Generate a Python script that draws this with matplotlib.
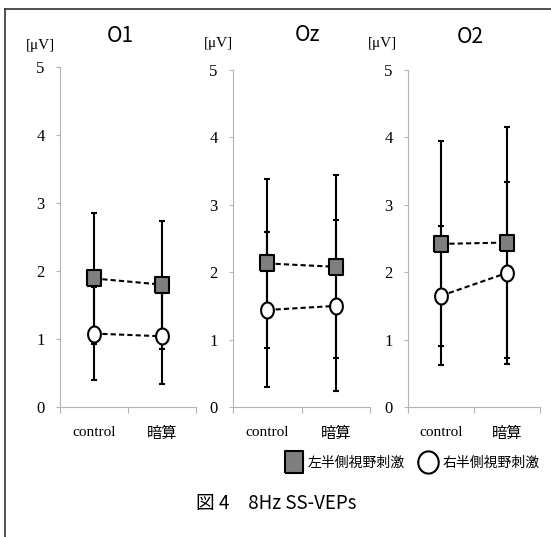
import matplotlib
matplotlib.use("Agg")
import matplotlib.pyplot as plt
from matplotlib.lines import Line2D
import numpy as np

# data (mean and SD, in microvolts)
conditions = ['control', '暗算']
channels = ['O1', 'Oz', 'O2']
left_mean_o1 = [1.89, 1.80]
left_sd_o1 = [0.97, 0.94]
right_mean_o1 = [1.08, 1.04]
right_sd_o1 = [0.68, 0.70]
left_mean_oz = [2.13, 2.08]
left_sd_oz = [1.25, 1.36]
right_mean_oz = [1.44, 1.50]
right_sd_oz = [1.15, 1.27]
left_mean_o2 = [2.42, 2.44]
left_sd_o2 = [1.52, 1.72]
right_mean_o2 = [1.65, 1.99]
right_sd_o2 = [1.03, 1.35]
yticks = [0, 1, 2, 3, 4, 5]
legend_labels = ['左半側視野刺激', '右半側視野刺激']
caption = '図 4\u30008Hz SS-VEPs'

W, H = 551, 537
fig = plt.figure(figsize=(W / 100, H / 100), dpi=100)

serif = ['Liberation Serif', 'Noto Sans CJK JP']
gothic = ['Noto Sans CJK JP', 'DejaVu Sans']

# marker shapes: slightly taller than wide, like the original
rect = [(-0.4, -0.5), (0.4, -0.5), (0.4, 0.5), (-0.4, 0.5), (-0.4, -0.5)]
t = np.linspace(0, 2 * np.pi, 60)
ellipse = list(zip(0.4 * np.cos(t), 0.5 * np.sin(t)))
circle_leg = list(zip(0.46 * np.cos(t), 0.5 * np.sin(t)))

# panel boxes in pixels: left, right, y of 5
boxes = [(60, 196, 67), (233, 370, 70), (408, 540, 70)]
y_zero = 407
titles_px = [(120, 36), (307, 35), (470, 37)]
units_px = [(40, 45), (218, 43), (382, 43)]

data = [
    (left_mean_o1, left_sd_o1, right_mean_o1, right_sd_o1),
    (left_mean_oz, left_sd_oz, right_mean_oz, right_sd_oz),
    (left_mean_o2, left_sd_o2, right_mean_o2, right_sd_o2),
]

x = np.array([0.5, 1.5])
grey = '#b4b4b4'
for i, ch in enumerate(channels):
    l, r, top = boxes[i]
    ax = fig.add_axes([l / W, 1 - y_zero / H, (r - l) / W, (y_zero - top) / H])
    lm, ls, rm, rs = data[i]
    ax.errorbar(x, lm, yerr=ls, fmt='none', ecolor='black', elinewidth=1.5,
                capsize=2.5, capthick=1.5, zorder=2)
    ax.errorbar(x, rm, yerr=rs, fmt='none', ecolor='black', elinewidth=1.5,
                capsize=2.5, capthick=1.5, zorder=2)
    ax.plot(x, lm, color='black', lw=1.5, ls=(0, (2.5, 1.5)), zorder=3)
    ax.plot(x, rm, color='black', lw=1.5, ls=(0, (2.5, 1.5)), zorder=3)
    ax.plot(x, lm, ls='none', marker=rect, ms=12, mfc='#7f7f7f', mec='black', mew=1.5, zorder=4)
    ax.plot(x, rm, ls='none', marker=ellipse, ms=11.5, mfc='white', mec='black', mew=1.5, zorder=4)

    ax.set_xlim(0, 2)
    ax.set_ylim(0, 5)
    for s in ['top', 'right']:
        ax.spines[s].set_visible(False)
    for s in ['left', 'bottom']:
        ax.spines[s].set_color(grey)
        ax.spines[s].set_linewidth(0.8)
    ax.set_yticks(yticks)
    ax.set_yticklabels([str(v) for v in yticks], family=serif, fontsize=12)
    ax.tick_params(axis='y', colors=grey, labelcolor='black', length=3, width=0.8, pad=8)
    ax.set_xticks([0, 1, 2])
    ax.set_xticklabels([])
    ax.tick_params(axis='x', which='major', colors=grey, length=4, width=0.8)
    ax.set_xticks(x, minor=True)
    ax.set_xticklabels(conditions, minor=True, family=serif, fontsize=11)
    ax.tick_params(axis='x', which='minor', length=0, pad=14)
    ax.patch.set_alpha(0)

    tx, ty = titles_px[i]
    fig.text(tx / W, 1 - ty / H, ch, ha='center', va='center', family=gothic, fontsize=15)
    ux, uy = units_px[i]
    fig.text(ux / W, 1 - uy / H, '[\u03bcV]', ha='center', va='center', family=serif, fontsize=11)

# legend
handles = [
    Line2D([], [], ls='none', marker=rect, ms=16, mfc='#7f7f7f', mec='black', mew=1.5),
    Line2D([], [], ls='none', marker=circle_leg, ms=16, mfc='white', mec='black', mew=1.5),
]
fig.legend(handles, legend_labels, loc='center', bbox_to_anchor=(413 / W, 1 - 463 / H),
           ncol=2, frameon=False, prop={'family': gothic, 'size': 10},
           handlelength=1.0, handletextpad=0.5, columnspacing=1.2)

fig.text(196 / W, 1 - 504 / H, caption, ha='left', va='center', family=gothic, fontsize=13.5)

# frame around the figure (top and left edges visible)
fig.add_artist(Line2D([5 / W, 5 / W], [0, 1 - 9 / H], color='#333333', lw=1.2))
fig.add_artist(Line2D([5 / W, 1], [1 - 9 / H, 1 - 9 / H], color='#333333', lw=1.2))

fig.savefig('out.png', dpi=100)
